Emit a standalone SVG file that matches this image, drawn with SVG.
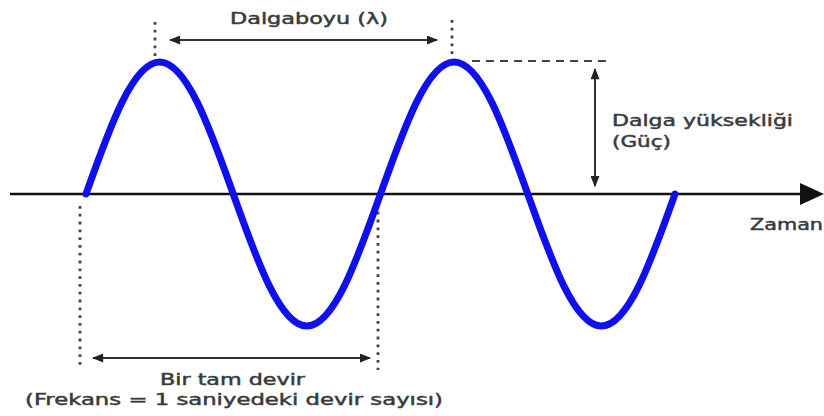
<svg xmlns="http://www.w3.org/2000/svg" width="824" height="416" viewBox="0 0 824 416">
<defs>
<style>
.lbl{font-family:"DejaVu Sans","Liberation Sans",sans-serif;font-size:15px;fill:#3a3a3a;stroke:#3a3a3a;stroke-width:0.45;}
.dot{stroke:#444;stroke-width:2.8;stroke-dasharray:2.8,5;fill:none;}
.dash{stroke:#444;stroke-width:2;stroke-dasharray:8,6;fill:none;}
.arr{stroke:#333;stroke-width:2;fill:none;marker-start:url(#ah);marker-end:url(#ah);}
.wave{stroke:#1010ee;stroke-width:7;fill:none;stroke-linecap:round;}
</style>
<marker id="ah" viewBox="0 0 10 8" refX="9" refY="4" markerWidth="6" markerHeight="4.5" orient="auto-start-reverse" markerUnits="strokeWidth">
<path d="M0,0 L10,4 L0,8 Z" fill="#222"/>
</marker>
</defs>
<rect width="824" height="416" fill="#fff"/>
<g id="connectors">
<line class="dot" x1="155" y1="22" x2="155" y2="56"/>
<line class="dot" x1="452" y1="20" x2="452" y2="56"/>
<line class="dot" x1="80" y1="206" x2="80" y2="366"/>
<line class="dot" x1="378" y1="204" x2="378" y2="370"/>
<line class="dash" x1="472" y1="61" x2="612" y2="61"/>
<line class="arr" x1="170" y1="40" x2="437" y2="40"/>
<line class="arr" x1="595" y1="69" x2="595" y2="186"/>
<line class="arr" x1="93" y1="358" x2="370" y2="358"/>
</g>
<g id="axis">
<line x1="10" y1="194" x2="804" y2="194" stroke="#111" stroke-width="2.5"/>
<path d="M800,183 L824,194 L800,205 Z" fill="#111"/>
</g>
<g id="wave">
<path class="wave" d="M86,194 C110.01,126.38 132.98,62 159.63,62 C186.27,62 209.24,126.38 233.25,194 C257.26,261.62 280.23,326 306.88,326 C333.52,326 356.49,261.62 380.5,194 C404.51,126.38 427.48,62 454.13,62 C480.77,62 503.74,126.38 527.75,194 C551.76,261.62 574.73,326 601.38,326 C628.02,326 650.99,261.62 675,194"/>
</g>
<g id="label-wavelength"><text class="lbl" x="230" y="24" textLength="158" lengthAdjust="spacingAndGlyphs">Dalgaboyu (λ)</text></g>
<g id="label-height">
<text class="lbl" x="612" y="126" textLength="181" lengthAdjust="spacingAndGlyphs">Dalga yüksekliği</text>
<text class="lbl" x="612" y="147" textLength="59" lengthAdjust="spacingAndGlyphs">(Güç)</text>
</g>
<g id="label-time"><text class="lbl" x="750" y="230" textLength="73" lengthAdjust="spacingAndGlyphs">Zaman</text></g>
<g id="label-cycle">
<text class="lbl" x="160" y="385" textLength="145" lengthAdjust="spacingAndGlyphs">Bir tam devir</text>
<text class="lbl" x="25" y="405" textLength="418" lengthAdjust="spacingAndGlyphs">(Frekans = 1 saniyedeki devir sayısı)</text>
</g>
</svg>
